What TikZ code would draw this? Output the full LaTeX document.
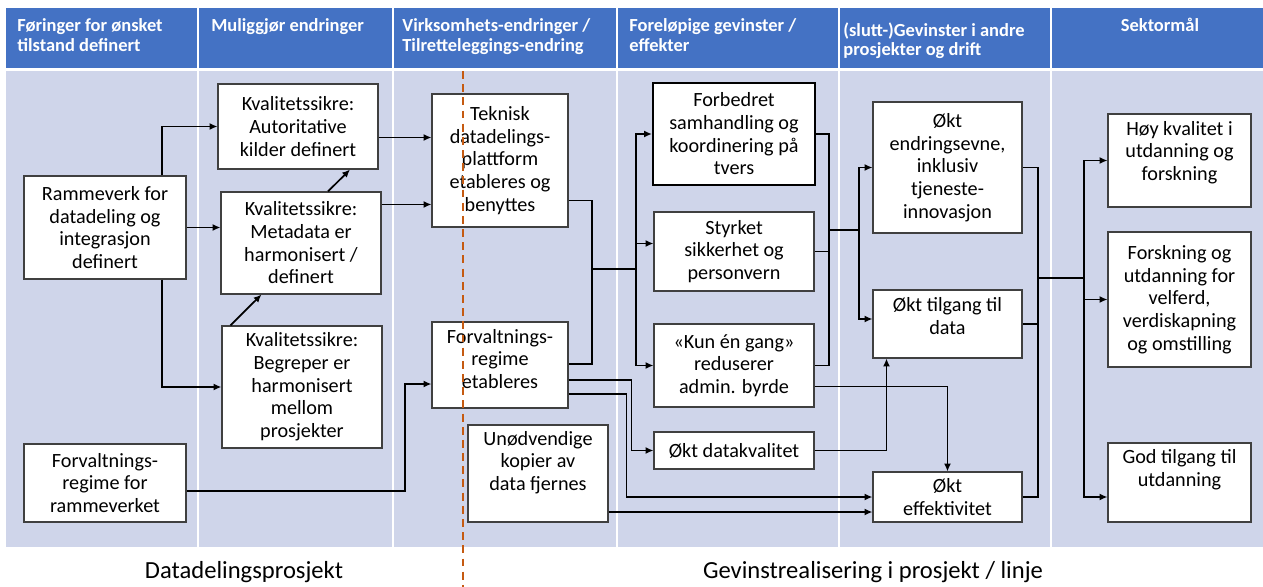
\documentclass[tikz,border=0pt]{standalone}
\usepackage{fontspec}
\setmainfont{Carlito}
\usepackage{xcolor}
\usepackage{tikz}
\usetikzlibrary{positioning}
\usetikzlibrary{calc}
\usetikzlibrary{arrows.meta}
\definecolor{hdblue}{HTML}{4472C4}
\definecolor{lane}{HTML}{CFD5EA}
\definecolor{rim}{HTML}{404040}
\definecolor{cutline}{HTML}{C55A11}

\begin{document}
\begin{tikzpicture}[x=0.02cm,y=-0.02cm,>={Latex[length=4.5pt,width=4pt]},
  box/.style={draw=rim,line width=0.6pt,fill=white,align=center,inner sep=1pt,font=\fontsize{11.5}{12.9}\selectfont},
  bx/.style 2 args={minimum width=#1*0.02cm,minimum height=#2*0.02cm},
  head/.style={text=white,align=left,anchor=north west,inner sep=0pt,font=\bfseries\fontsize{10.5}{11.3}\selectfont},
  link/.style={->,line width=1pt},
  wire/.style={line width=1pt}]
\useasboundingbox (0,0) rectangle (1263,587);
% lanes
\foreach \a/\b in {6/197,199/392,394/616,618/838,840/1050,1052/1263}{
  \fill[hdblue] (\a,8) rectangle (\b,68);
  \fill[lane] (\a,71) rectangle (\b,547);
}
\node[head] (h1) at (17,18) {Føringer for ønsket\\tilstand definert};
\node[head] (h2) at (211,18) {Muliggjør endringer};
\node[head] (h3) at (402,18) {Virksomhets-endringer /\\Tilretteleggings-endring};
\node[head] (h4) at (629,18) {Foreløpige gevinster /\\effekter};
\node[head] (h5) at (843,22) {(slutt-)Gevinster i andre\\prosjekter og drift};
\node[head,anchor=north] (h6) at (1160,18) {Sektormål};

% boxes
\node[box,bx={162}{103}] (ramme) at (105,227.5) {Rammeverk for\\datadeling og\\integrasjon\\definert};
\node[box,bx={162}{78}] (forvR) at (105,483) {Forvaltnings-\\regime for\\rammeverket};
\node[box,bx={160}{85}] (autor) at (298,126.5) {Kvalitetssikre:\\Autoritative\\kilder definert};
\node[box,bx={160}{102}] (meta) at (301,243) {Kvalitetssikre:\\Metadata er\\harmonisert /\\definert};
\node[box,bx={160}{122}] (begrep) at (302,387) {Kvalitetssikre:\\Begreper er\\harmonisert\\mellom\\prosjekter};
\node[box,bx={136}{133}] (teknisk) at (500,160.5) {Teknisk\\datadelings-\\plattform\\etableres og\\benyttes};
\node[box,bx={136}{86}] (forvE) at (500,365) {Forvaltnings-\\regime\\etableres\\[-6pt]\mbox{}};
\node[box,bx={140}{97}] (unodv) at (538,473.5) {Unødvendige\\kopier av\\data fjernes\\[1.5pt]\mbox{}};
\node[box,bx={162}{102},draw=black,line width=1.2pt] (forbedret) at (734,134) {Forbedret\\samhandling og\\koordinering på\\tvers};
\node[box,bx={160}{79}] (styrket) at (734,251.5) {Styrket\\sikkerhet og\\personvern};
\node[box,bx={160}{83}] (kun) at (734,365.5) {«Kun én gang»\\reduserer\\admin. byrde};
\node[box,bx={160}{37}] (datakv) at (734,450.5) {Økt datakvalitet};
\node[box,bx={149}{131}] (endring) at (947.5,167.5) {Økt\\endringsevne,\\inklusiv\\tjeneste-\\innovasjon};
\node[box,bx={149}{68}] (tilgang) at (947.5,324) {Økt tilgang til\\data\\[-4pt]\mbox{}};
\node[box,bx={149}{50}] (effekt) at (947.5,497) {Økt\\effektivitet};
\node[box,bx={143}{93}] (hoy) at (1179.5,160.5) {Høy kvalitet i\\utdanning og\\forskning\\[-2pt]\mbox{}};
\node[box,bx={143}{135}] (forsk) at (1179.5,299.5) {Forskning og\\utdanning for\\velferd,\\verdiskapning\\og omstilling};
\node[box,bx={143}{79}] (god) at (1179.5,482.5) {God tilgang til\\utdanning\\[3.5pt]\mbox{}};

% bends
\coordinate (b1) at (162,0);
\coordinate (b2) at (405,384);
\coordinate (b3) at (592,269);
\coordinate (b4) at (636,269);
\coordinate (b5) at (829,230);
\coordinate (b6) at (859,230);
\coordinate (b8) at (1038,278);
\coordinate (b9) at (1084,278);

% first lanes
\draw[link] (ramme.north -| b1) |- (autor);
\draw[link] (ramme) -- (ramme -| meta.west);
\draw[link] (ramme.south -| b1) |- (begrep);
\draw[link] ($(begrep.north west)+(9,0)$) -- ($(meta.south west)+(41,0)$);
\draw[link] ($(meta.north)+(27,0)$) -- ($(autor.south)+(52,0)$);
\draw[link] ($(autor.east)+(0,11)$) coordinate (p1) -- (p1 -| teknisk.west);
\draw[link] ($(meta.north east)+(0,13)$) coordinate (p2) -- (p2 -| teknisk.west);
\draw[link] ($(forvR.east)+(0,8)$) -| (b2) -- (b2 -| forvE.west);

% middle
\draw[wire] ($(teknisk.south east)+(0,-27)$) -| (b3) |- ($(forvE.east)+(0,-1)$);
\draw[wire] (b3) -- (b4);
\draw[link] (b4) |- (forbedret);
\draw[link] (b4) |- ($(styrket.west)+(0,-8)$);
\draw[link] (b4) |- (kun);
\draw[link] ($(forvE.east)+(0,15)$) -| ($(datakv.west)+(-22,0)$) -- (datakv.west);
\draw[link] ($(forvE.east)+(0,29)$) -| ($(effekt.west)+(-246,0)$) -- (effekt.west);
\draw[link] ($(unodv.east)+(0,38.5)$) coordinate (p3) -- (p3 -| effekt.west);
\draw[link] ($(kun.east)+(0,21)$) -| (effekt);
\draw[link] (datakv) -| ($(tilgang.south west)+(14,0)$);

% gains
\draw[wire] (forbedret) -| (b5);
\draw[wire] (styrket) -| (b5);
\draw[wire] (kun) -| (b5);
\draw[wire] (b5) -- (b6);
\draw[link] (b6) |- (endring);
\draw[link] (b6) |- ($(tilgang.west)+(0,-5)$);
\draw[wire] (endring) -| (b8);
\draw[wire] (tilgang) -| (b8);
\draw[wire] (effekt) -| (b8);
\draw[wire] (b8) -- (b9);
\draw[link] (b9) |- (hoy);
\draw[link] (b9) |- (forsk);
\draw[link] (b9) |- ($(god.west)+(0,14.5)$);

% split
\draw[cutline,line width=1.5pt,dash pattern=on 4.5pt off 3pt] (463,71) -- (463,587);
\node[font=\fontsize{14}{16}\selectfont] (prosj) at (244,572) {Datadelingsprosjekt};
\node[font=\fontsize{14}{16}\selectfont] (gevinst) at (873,572) {Gevinstrealisering i prosjekt / linje};
\end{tikzpicture}
\end{document}
